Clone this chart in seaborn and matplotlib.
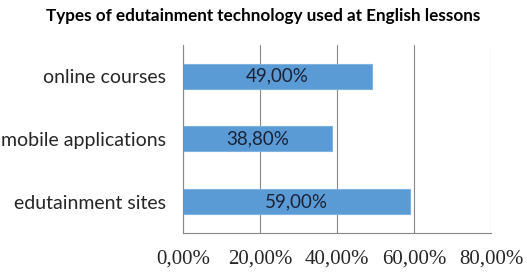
import pandas as pd
import matplotlib
matplotlib.use("Agg")
import matplotlib.pyplot as plt
import seaborn as sns

# Chart data
categories = ["online courses", "mobile applications", "edutainment sites"]
shares = [49.0, 38.8, 59.0]
x_ticks = [0, 20, 40, 60, 80]
x_tick_labels = ["0,00%", "20,00%", "40,00%", "60,00%", "80,00%"]
bar_labels = ["49,00%", "38,80%", "59,00%"]

df = pd.DataFrame({"category": categories, "share": shares})

sns.set_style("white")
plt.rcParams["font.family"] = ["Lato", "DejaVu Sans"]

fig = plt.figure(figsize=(5.27, 2.74), dpi=100)
ax = fig.add_axes([0.347, 0.150, 0.585, 0.686])

sns.barplot(data=df, x="share", y="category", orient="h", color="#5B9BD5",
            width=0.4, edgecolor="#7FB2E0", linewidth=0.8, saturation=1, ax=ax)

for patch, lab in zip(ax.patches, bar_labels):
    ax.text(patch.get_x() + patch.get_width() / 2,
            patch.get_y() + patch.get_height() / 2, lab,
            ha="center", va="center", fontsize=13.5, color="#1a2236")

ax.set_xlim(0, 80)
ax.set_ylim(2.5, -0.5)
ax.set_xticks(x_ticks)
ax.set_xticklabels(x_tick_labels, fontfamily="Liberation Serif", fontsize=15)
ax.set_yticks([-0.5, 0.5, 1.5, 2.5], minor=False)
ax.set_yticklabels([])
ax.set_yticks([0, 1, 2], minor=True)
ax.set_yticklabels(categories, minor=True, fontsize=14)
ax.tick_params(axis="y", which="minor", length=0, pad=12)
ax.tick_params(axis="y", which="major", length=5, color="#888888", width=0.8)
ax.tick_params(axis="x", length=5, color="#888888", width=0.8, pad=7)
ax.set_xlabel("")
ax.set_ylabel("")

ax.grid(axis="x", color="#888888", linewidth=0.8)
ax.set_axisbelow(True)
for side in ["top", "right"]:
    ax.spines[side].set_visible(False)
for side in ["left", "bottom"]:
    ax.spines[side].set_color("#888888")
    ax.spines[side].set_linewidth(0.8)

fig.text(0.5, 0.925, "Types of edutainment technology used at English lessons",
         ha="center", fontsize=12.3, fontweight="bold", color="#000000")

fig.savefig("out.png", dpi=100)
